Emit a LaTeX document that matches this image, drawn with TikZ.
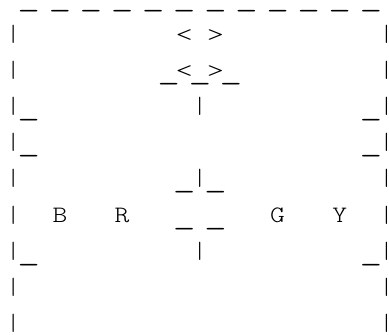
\documentclass[tikz,border=0pt]{standalone}
\usepackage{fontspec}
\setmonofont{Latin Modern Mono Light}
\begin{document}
\begin{tikzpicture}[x=1pt,y=1pt,
  ch/.style={anchor=base,inner sep=0pt,outer sep=0pt,font=\ttfamily\fontsize{23.5}{30}\selectfont,text=black}]
\useasboundingbox (0,0) rectangle (389,335);
\def\cx#1{5.5+15.55*(#1+0.5)}
\def\ry#1{330-36.2*(#1)}
\def\U{\raisebox{-2pt}{\scalebox{1.84}[1.3]{\_}}}
\def\L{\scalebox{1.4}[0.9]{<}}
\def\G{\scalebox{1.4}[0.9]{>}}
\def\T#1{\scalebox{1.2}[1]{#1}}
% top dashed row
\foreach \c in {1,3,...,23}
  \node[ch] (t-\c) at ({\cx{\c}},{\ry{0}}) {\U};
% side borders
\foreach \r in {1,...,9}{
  \node[ch] (l-\r) at ({\cx{0}},{\ry{\r}}) {|};
  \node[ch] (r-\r) at ({\cx{24}},{\ry{\r}}) {|};
}
% corner ticks
\foreach \r in {3,4,7}{
  \node[ch] (lt-\r) at ({\cx{1}},{\ry{\r}}) {\U};
  \node[ch] (rt-\r) at ({\cx{23}},{\ry{\r}}) {\U};
}
% underscores inside
\foreach \c/\r [count=\i] in {10/2, 12/2, 14/2, 11/5, 13/5, 11/6, 13/6}
  \node[ch] (u-\i) at ({\cx{\c}},{\ry{\r}}) {\U};
% angle brackets
\foreach \r in {1,2}{
  \node[ch] (lb-\r) at ({\cx{11}},{\ry{\r}}) {\L};
  \node[ch] (rb-\r) at ({\cx{13}},{\ry{\r}}) {\G};
}
% vertical strokes
\foreach \r in {3,5,7}
  \node[ch] (v-\r) at ({\cx{12}},{\ry{\r}}) {|};
% letters
\foreach \c/\t in {3/B, 7/R, 17/G, 21/Y}
  \node[ch] (let-\t) at ({\cx{\c}},{\ry{6}}) {\T{\t}};
\end{tikzpicture}
\end{document}
